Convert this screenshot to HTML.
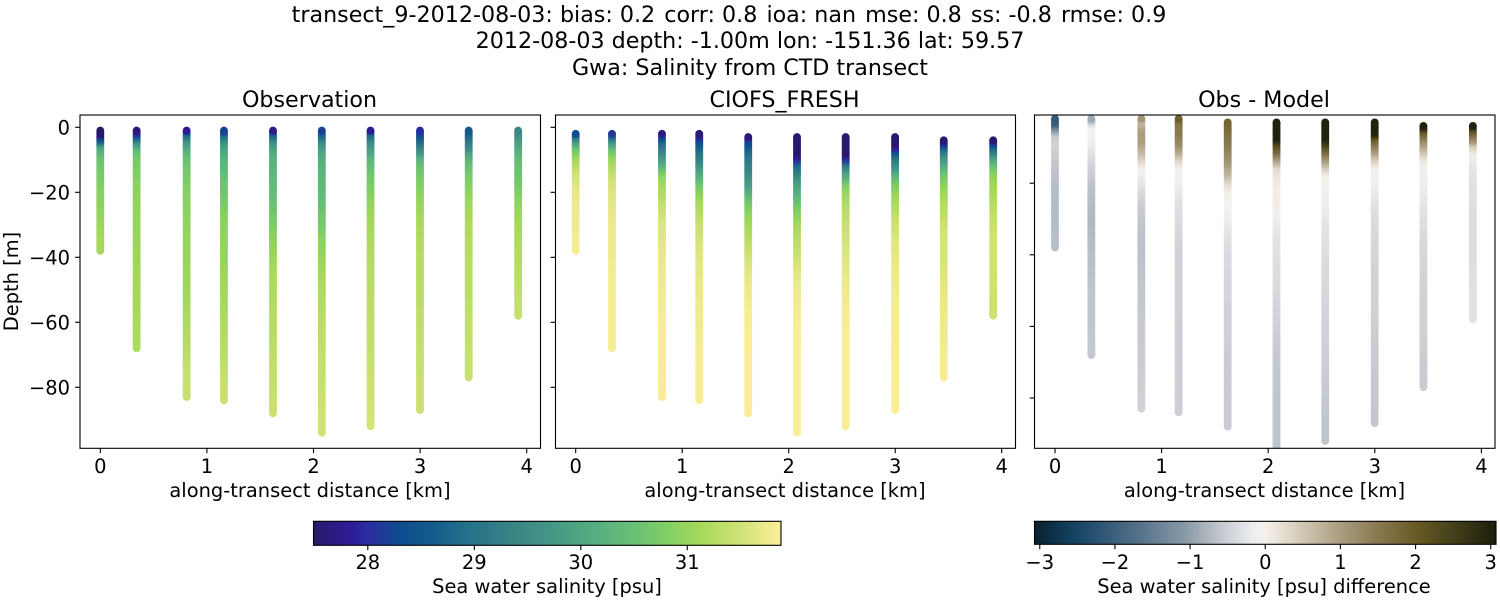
<!DOCTYPE html>
<html>
<head>
<meta charset="utf-8">
<title>Salinity transect comparison</title>
<style>
html,body{margin:0;padding:0;background:#fff;width:1500px;height:600px;overflow:hidden}
svg{display:block}
text{font-family:"DejaVu Sans","Liberation Sans",sans-serif;fill:#000}
.t14{font-size:19.44px}
.t16{font-size:22.2px}
</style>
</head>
<body>
<svg id="chart" xmlns="http://www.w3.org/2000/svg" width="1500" height="600" viewBox="0 0 1500 600">
  <rect x="0" y="0" width="1500" height="600" fill="#fff"/>
  <text class="t16" x="729" y="22" text-anchor="middle" xml:space="preserve">transect_9-2012-08-03: bias: 0.2  <tspan dx="-5">corr: 0.8  </tspan><tspan dx="-5">ioa: nan  </tspan><tspan dx="-5">mse: 0.8  </tspan><tspan dx="-5">ss: -0.8  </tspan><tspan dx="-5">rmse: 0.9</tspan></text>
  <text class="t16" x="750" y="48" text-anchor="middle">2012-08-03 depth: -1.00m lon: -151.36 lat: 59.57</text>
  <text class="t16" x="750" y="75" text-anchor="middle">Gwa: Salinity from CTD transect</text>
  <text class="t16" x="309.5" y="107" text-anchor="middle">Observation</text>
  <text class="t16" x="784.5" y="107" text-anchor="middle">CIOFS_FRESH</text>
  <text class="t16" x="1264" y="107" text-anchor="middle">Obs - Model</text>
  <text class="t14" transform="translate(18,281.5) rotate(-90)" text-anchor="middle">Depth [m]</text>
  <text class="t14" x="310" y="497" text-anchor="middle">along-transect distance [km]</text>
  <text class="t14" x="785" y="497" text-anchor="middle">along-transect distance [km]</text>
  <text class="t14" x="1264.5" y="497" text-anchor="middle">along-transect distance [km]</text>
  <text class="t14" x="547" y="593" text-anchor="middle">Sea water salinity [psu]</text>
  <text class="t14" x="1264" y="593" text-anchor="middle">Sea water salinity [psu] difference</text>
</svg>
<script>
// Along-transect position of each cast, km
const stationKm = [0, 0.341, 0.81, 1.16, 1.62, 2.078, 2.535, 2.999, 3.456, 3.92];
// Deepest sample of each cast, metres below surface
const bottomDepth = [38, 68, 83, 84, 88, 94, 92, 87, 77, 58];
// Shallowest sample of each cast in each panel
const topDepthObs = [1, 1, 1, 1, 1, 1, 1, 1, 1, 1];
const topDepthModel = [2, 2, 2, 2, 3, 3, 3, 3, 4, 4];
const topDepthDiff = [2, 2, 2, 2, 3, 3, 3, 3, 4, 4];
// Depth levels at which the casts were read
const depthLevels = [1,2,3,4,5,6,7,8,9,10,12,14,16,18,20,23,26,30,35,40,45,50,55,60,65,70,75,80,85,90];

// Observed salinity, psu: one list per cast, starting at the cast's top depth
const obsSalinity = [
[27.5,27.5,27.6,28.3,28.9,29.8,30.1,30.3,30.45,30.55,30.62,30.7,30.75,30.8,30.85,30.9,30.95,31.05,31.12],
[27.6,27.8,28.2,28.9,29.5,30.0,30.3,30.5,30.6,30.7,30.75,30.8,30.85,30.9,30.92,30.95,30.97,31.0,31.02,31.05,31.08,31.1,31.12,31.15,31.18],
[27.8,28.3,28.9,29.4,29.7,29.9,30.1,30.3,30.4,30.5,30.6,30.7,30.75,30.8,30.85,30.88,30.92,30.95,31.0,31.02,31.05,31.08,31.12,31.2,31.25,31.3,31.38,31.42],
[28.2,28.4,28.9,29.3,29.6,29.8,29.95,30.05,30.15,30.2,30.3,30.4,30.5,30.55,30.6,30.7,30.8,30.9,30.95,30.97,31.05,31.1,31.15,31.2,31.25,31.3,31.38,31.42],
[27.7,28.2,28.8,29.3,29.6,29.8,29.95,30.05,30.12,30.18,30.25,30.3,30.35,30.38,30.42,30.5,30.6,30.75,30.92,31.02,31.15,31.2,31.25,31.28,31.3,31.33,31.38,31.4,31.43],
[28.2,28.4,28.8,29.2,29.5,29.7,29.85,29.95,30.05,30.1,30.2,30.25,30.3,30.35,30.4,30.45,30.55,30.7,30.9,31.0,31.12,31.2,31.25,31.3,31.33,31.37,31.4,31.42,31.45,31.5],
[27.8,28.4,28.9,29.2,29.5,29.7,29.85,30.0,30.15,30.3,30.45,30.6,30.68,30.75,30.82,30.95,31.05,31.12,31.18,31.22,31.25,31.28,31.3,31.33,31.36,31.4,31.43,31.45,31.48,31.52],
[28.0,28.2,28.4,28.7,29.0,29.2,29.5,29.7,30.0,30.25,30.5,30.65,30.72,30.8,30.88,30.98,31.08,31.14,31.2,31.25,31.28,31.3,31.32,31.35,31.38,31.4,31.42,31.44,31.46],
[28.6,28.7,28.8,29.0,29.2,29.4,29.6,29.9,30.05,30.3,30.5,30.65,30.75,30.85,30.95,31.05,31.13,31.2,31.24,31.28,31.3,31.3,31.33,31.35,31.38,31.4,31.42],
[29.4,29.5,29.6,29.75,29.9,30.0,30.1,30.2,30.3,30.4,30.5,30.55,30.62,30.7,30.8,30.92,31.03,31.12,31.2,31.25,31.3,31.35,31.38]
];
// Modelled salinity, psu
const modelSalinity = [
[28.3,28.8,29.4,29.9,30.3,30.6,30.8,30.95,31.1,31.3,31.45,31.55,31.62,31.68,31.73,31.76,31.78,31.8],
[28.1,28.7,29.2,29.7,30.1,30.5,30.7,30.85,31.0,31.2,31.35,31.45,31.55,31.6,31.66,31.7,31.74,31.76,31.78,31.8,31.8,31.82,31.82,31.83],
[27.7,28.1,28.5,28.8,29.05,29.25,29.4,29.6,29.8,30.2,30.7,31.0,31.12,31.2,31.35,31.45,31.58,31.65,31.72,31.75,31.78,31.8,31.82,31.83,31.83,31.84,31.84],
[27.6,27.8,28.1,28.4,28.6,28.8,29.0,29.15,29.3,29.65,30.0,30.35,30.65,30.85,31.1,31.25,31.4,31.55,31.62,31.68,31.72,31.76,31.78,31.8,31.82,31.83,31.84],
[27.6,28.0,28.3,28.5,28.7,28.85,29.0,29.1,29.3,29.45,29.6,29.85,30.15,30.6,30.9,31.1,31.32,31.5,31.65,31.75,31.8,31.84,31.85,31.86,31.86,31.86,31.86],
[27.5,27.5,27.5,27.5,27.5,27.5,27.55,27.9,28.8,29.2,29.55,29.9,30.15,30.5,30.85,31.1,31.32,31.45,31.65,31.75,31.8,31.84,31.85,31.86,31.86,31.86,31.86,31.86],
[27.5,27.5,27.5,27.5,27.5,27.5,27.55,28.0,29.1,29.8,30.3,30.8,31.0,31.18,31.3,31.42,31.52,31.6,31.7,31.76,31.8,31.83,31.85,31.85,31.85,31.85,31.85,31.85],
[27.5,27.5,27.5,27.6,27.9,28.4,28.8,29.1,29.55,30.0,30.45,30.75,30.95,31.15,31.3,31.47,31.6,31.68,31.74,31.78,31.8,31.82,31.83,31.84,31.85,31.85,31.85],
[27.5,27.6,28.2,28.8,29.2,29.5,29.75,30.1,30.5,30.75,30.9,31.05,31.2,31.3,31.47,31.55,31.55,31.6,31.66,31.72,31.76,31.78,31.8,31.82],
[27.5,27.9,28.4,28.9,29.2,29.6,30.0,30.5,30.8,31.0,31.08,31.15,31.25,31.32,31.42,31.5,31.48,31.47,31.47,31.45]
];
// Observation minus model, psu
const diffSalinity = [
[-2.1,-2.05,-2.0,-1.3,-0.9,-0.6,-0.5,-0.5,-0.5,-0.55,-0.58,-0.62,-0.65,-0.68,-0.7,-0.72,-0.72,-0.68],
[-0.9,-0.7,-0.3,-0.05,0,-0.02,-0.08,-0.15,-0.2,-0.3,-0.42,-0.5,-0.55,-0.62,-0.68,-0.72,-0.75,-0.72,-0.68,-0.65,-0.62,-0.6,-0.6,-0.58],
[1.1,0.75,0.75,0.95,1.0,1.0,1.0,0.95,0.85,0.6,0.3,0.02,-0.15,-0.25,-0.42,-0.52,-0.6,-0.64,-0.65,-0.62,-0.6,-0.58,-0.56,-0.55,-0.53,-0.52,-0.5],
[1.9,1.7,1.55,1.5,1.5,1.45,1.35,1.25,1.15,0.75,0.3,0.0,-0.08,-0.12,-0.22,-0.3,-0.38,-0.44,-0.48,-0.5,-0.5,-0.5,-0.52,-0.52,-0.52,-0.52,-0.52],
[1.85,1.8,1.75,1.65,1.6,1.55,1.5,1.45,1.3,1.15,0.9,0.7,0.3,0.02,-0.02,-0.15,-0.3,-0.38,-0.42,-0.45,-0.48,-0.5,-0.52,-0.55,-0.55,-0.55,-0.55],
[3,3,3,3,3,3,2.6,2.2,1.6,0.9,0.3,0.15,0.08,0.05,0.05,-0.08,-0.28,-0.3,-0.35,-0.4,-0.45,-0.5,-0.55,-0.58,-0.6,-0.62,-0.62,-0.62],
[3,3,3,3,3,3,2.7,2.3,1.6,1.0,0.45,0.05,-0.02,-0.1,-0.15,-0.22,-0.3,-0.35,-0.4,-0.42,-0.45,-0.48,-0.5,-0.52,-0.55,-0.58,-0.6,-0.62],
[3,3,3,3,2.8,2.0,1.7,1.4,0.9,0.35,0.05,-0.05,-0.1,-0.2,-0.3,-0.38,-0.42,-0.45,-0.48,-0.5,-0.5,-0.52,-0.55,-0.55,-0.58,-0.58,-0.6],
[3,2.9,2.1,1.7,1.4,1.1,0.9,0.45,0.1,0.02,-0.08,-0.12,-0.2,-0.26,-0.32,-0.4,-0.42,-0.45,-0.48,-0.5,-0.5,-0.52,-0.55,-0.55],
[3,2.6,2.0,1.6,1.3,0.9,0.4,0.05,-0.2,-0.25,-0.28,-0.3,-0.32,-0.33,-0.35,-0.35,-0.35,-0.33,-0.3,-0.3]
];

// Tick labels
const xTicks = [0, 1, 2, 3, 4];
const depthTicksMain = [0, -20, -40, -60, -80];
const depthTicksDiff = [-20, -40, -60, -80];
const salinityTicks = [28, 29, 30, 31];
const diffTicks = [-3, -2, -1, 0, 1, 2, 3];

// Colour ramps
const halineAt = [0,0.078,0.114,0.185,0.256,0.327,0.4,0.47,0.54,0.61,0.683,0.754,0.825,0.897,1];
const halineHex = ['#2a186c','#2d1c95','#2a2ba0','#0f4c90','#125c8c','#23708a','#337e87','#3f8f85','#4a9e84','#57b07f','#68bf76','#80cf63','#a5d85b','#c9e070','#fdee99'];
const diffAt = [0,0.063,0.114,0.222,0.33,0.417,0.475,0.5,0.566,0.66,0.74,0.827,0.907,1];
const diffHex = ['#08202e','#103a58','#1f4c6c','#537088','#8b9ba7','#cdd0d5','#eceef0','#f5f1ed','#d9cfbf','#aa9f82','#8a7a52','#6a5a25','#43401a','#1c1e0b'];

const salinityRange = [27.49, 31.88];
const diffRange = [-3.07, 3.07];

const NS = 'http://www.w3.org/2000/svg';
const svg = document.getElementById('chart');

function make(tag, attrs, parent) {
  const el = document.createElementNS(NS, tag);
  for (const k in attrs) el.setAttribute(k, attrs[k]);
  (parent || svg).appendChild(el);
  return el;
}
function hexRgb(h) {
  return [parseInt(h.slice(1,3),16), parseInt(h.slice(3,5),16), parseInt(h.slice(5,7),16)];
}
function ramp(at, hex, t) {
  t = Math.max(0, Math.min(1, t));
  for (let i = 1; i < at.length; i++) {
    if (t <= at[i]) {
      const f = (t - at[i-1]) / (at[i] - at[i-1]);
      const a = hexRgb(hex[i-1]), b = hexRgb(hex[i]);
      return 'rgb(' + a.map((v, j) => Math.round(v + (b[j] - v) * f)).join(',') + ')';
    }
  }
  return hex[hex.length - 1];
}
function minusText(v) {
  return String(v).replace('-', '\u2212');
}
const salinityColor = v => ramp(halineAt, halineHex, (v - salinityRange[0]) / (salinityRange[1] - salinityRange[0]));
const diffColor = v => ramp(diffAt, diffHex, (v - diffRange[0]) / (diffRange[1] - diffRange[0]));

const defs = make('defs', {});
let gradCount = 0;

function sampleStroke(y1, y2, c1, c2) {
  const id = 'seg' + (gradCount++);
  const g = make('linearGradient', { id: id, gradientUnits: 'userSpaceOnUse', x1: 0, x2: 0, y1: y1, y2: y2 }, defs);
  make('stop', { offset: 0, 'stop-color': c1 }, g);
  make('stop', { offset: 1, 'stop-color': c2 }, g);
  return 'url(#' + id + ')';
}

function drawPanel(p) {
  const xScale = km => p.x0 + km * p.pxPerKm;
  const yScale = d => p.yZero + d * p.pxPerM;
  const group = make('g', {});
  
  

  const clip = make('clipPath', { id: p.name + '-clip' }, defs);
  make('rect', { x: p.left, y: p.top, width: p.right - p.left, height: p.bottom - p.top }, clip);

  const marks = make('g', { 'clip-path': 'url(#' + p.name + '-clip)' }, group);
  
  

  p.values.forEach((vals, s) => {
    const cast = make('g', {}, marks);
    
    
    const cx = xScale(stationKm[s]);
    const start = depthLevels.indexOf(p.tops[s]);
    const bottom = bottomDepth[s];
    const n = vals.length;
    const samples = vals.map((v, i) => ({ v: v, d: depthLevels[start + i] }));
    samples.forEach((sm, i) => {
      const nextD = i === n - 1 ? bottom : samples[i+1].d;
      const nextV = i === n - 1 ? sm.v : samples[i+1].v;
      const y1 = yScale(sm.d), y2 = yScale(nextD);
      const seg = make('line', {
        x1: cx, x2: cx, y1: y1, y2: y2 + 0.4,
        stroke: sampleStroke(y1, y2, p.color(sm.v), p.color(nextV)), 'stroke-width': 7.8
      }, cast);
      
      
    });
    const topDot = make('circle', { cx: cx, cy: yScale(samples[0].d), r: 3.9, fill: p.color(samples[0].v) }, cast);
    
    
    const botDot = make('circle', { cx: cx, cy: yScale(bottom), r: 3.9, fill: p.color(samples[n-1].v) }, cast);
    
    
  });

  const frame = make('rect', {
    x: p.left, y: p.top, width: p.right - p.left, height: p.bottom - p.top,
    fill: 'none', stroke: '#000', 'stroke-width': 1.1
  }, group);
  
  

  xTicks.forEach(t => {
    const x = xScale(t);
    const tick = make('line', { x1: x, x2: x, y1: p.bottom, y2: p.bottom + 4.9, stroke: '#000', 'stroke-width': 1.1 }, group);
    
    
    const lab = make('text', { x: x, y: 473, 'text-anchor': 'middle', class: 't14' }, group);
    
    
    lab.textContent = t;
  });

  p.depthTicks.forEach(t => {
    const y = yScale(-t);
    const tick = make('line', { x1: p.left - 4.9, x2: p.left, y1: y, y2: y, stroke: '#000', 'stroke-width': 1.1 }, group);
    
    
    if (p.showDepthLabels) {
      const lab = make('text', { x: p.left - 10, y: y + 7, 'text-anchor': 'end', class: 't14' }, group);
      
      
      lab.textContent = minusText(t);
    }
  });
}

function drawColorbar(c) {
  const grad = make('linearGradient', { id: c.name + '-grad', x1: 0, x2: 1, y1: 0, y2: 0 }, defs);
  c.at.forEach((a, i) => make('stop', { offset: a, 'stop-color': c.hex[i] }, grad));
  const bar = make('rect', {
    x: c.left, y: c.top, width: c.right - c.left, height: c.bottom - c.top,
    fill: 'url(#' + c.name + '-grad)', stroke: '#000', 'stroke-width': 1.1
  });
  
  
  const scale = v => c.left + (v - c.range[0]) / (c.range[1] - c.range[0]) * (c.right - c.left);
  c.ticks.forEach(t => {
    const x = scale(t);
    const tick = make('line', { x1: x, x2: x, y1: c.bottom, y2: c.bottom + 4.9, stroke: '#000', 'stroke-width': 1.1 });
    
    
    const lab = make('text', { x: x, y: 569, 'text-anchor': 'middle', class: 't14' });
    
    
    lab.textContent = minusText(t);
  });
}

drawPanel({ name: 'observation', left: 80, right: 540.5, top: 115, bottom: 448.3,
  x0: 100.3, pxPerKm: 106.6, yZero: 127.3, pxPerM: 3.25,
  values: obsSalinity, tops: topDepthObs, color: salinityColor,
  depthTicks: depthTicksMain, showDepthLabels: true });
drawPanel({ name: 'model', left: 555.5, right: 1015.5, top: 115, bottom: 448.3,
  x0: 575.7, pxPerKm: 106.5, yZero: 127.3, pxPerM: 3.25,
  values: modelSalinity, tops: topDepthModel, color: salinityColor,
  depthTicks: depthTicksMain, showDepthLabels: false });
drawPanel({ name: 'difference', left: 1034.5, right: 1495, top: 115, bottom: 448.3,
  x0: 1055, pxPerKm: 106.6, yZero: 111.6, pxPerM: 3.58,
  values: diffSalinity, tops: topDepthDiff, color: diffColor,
  depthTicks: depthTicksDiff, showDepthLabels: false });

drawColorbar({ name: 'salinity', left: 313.5, right: 781, top: 521.3, bottom: 545.3,
  at: halineAt, hex: halineHex, range: salinityRange, ticks: salinityTicks });
drawColorbar({ name: 'difference', left: 1034.5, right: 1496, top: 521.3, bottom: 544.3,
  at: diffAt, hex: diffHex, range: diffRange, ticks: diffTicks });
</script>
</body>
</html>
